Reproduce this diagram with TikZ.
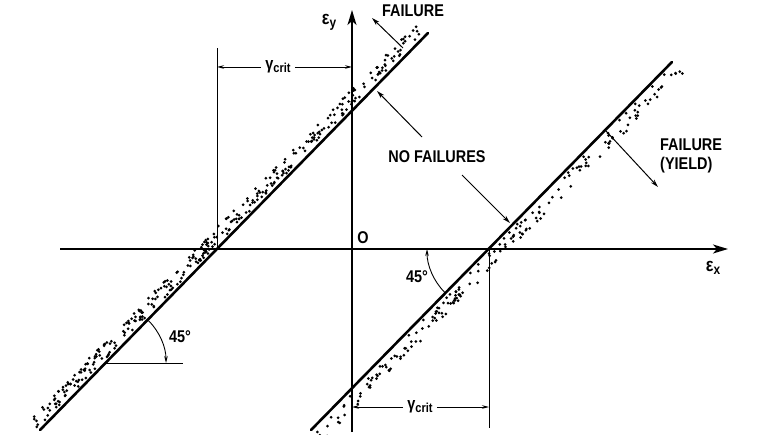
\documentclass[tikz,border=0pt]{standalone}
\usepackage{fontspec}
\newfontfamily\lbl[FakeStretch=0.85]{Liberation Sans}
\usetikzlibrary{arrows.meta}
\begin{document}
\begin{tikzpicture}[x=1pt,y=1pt,
  lab/.style={font=\lbl\bfseries\fontsize{17}{19}\selectfont, inner sep=0pt},
  axisline/.style={line width=1.6pt, -{Stealth[length=15pt,width=9pt,inset=4pt]}},
  critline/.style={line width=2.6pt, line cap=round},
  thinline/.style={line width=0.9pt},
  annarrow/.style={line width=1pt, -{Stealth[length=8pt,width=4.5pt]}},
  dimarrow/.style={line width=0.9pt, -{Stealth[length=7pt,width=3.5pt]}},
  dot/.style={fill=black},
]
\useasboundingbox (0,-435) rectangle (768,0);
% stippled bands
\pgfmathsetseed{7}
\foreach \i in {1,...,340}{
  \pgfmathsetmacro\t{rnd}
  \pgfmathsetmacro\d{3+12*rnd}
  \pgfmathsetmacro\px{40+388*\t-0.715*\d}
  \pgfmathsetmacro\py{-430+397*\t+0.699*\d}
  \fill[dot] (\px,\py) circle[radius=1.5pt];
}
\foreach \i in {1,...,190}{
  \pgfmathsetmacro\t{rnd}
  \pgfmathsetmacro\d{3+13*rnd}
  \pgfmathsetmacro\px{311+361*\t+0.714*\d}
  \pgfmathsetmacro\py{-430+368*\t-0.700*\d}
  \fill[dot] (\px,\py) circle[radius=1.5pt];
}
% axes
\coordinate (O) at (352,-249);
\coordinate (xs) at (60,-249);
\coordinate (xe) at (728,-249);
\coordinate (ys) at (352,-432);
\coordinate (ye) at (352,-10);
\draw[axisline] (xs) -- (xe);
\draw[axisline] (ys) -- (ye);
% failure lines
\coordinate (L1) at (40,-430);
\coordinate (L2) at (428,-33);
\coordinate (R1) at (311,-430);
\coordinate (R2) at (672,-62);
\draw[critline] (L1) -- (L2);
\draw[critline] (R1) -- (R2);
% verticals
\coordinate (VL1) at (217,-249);
\coordinate (VL2) at (217,-48);
\coordinate (VR1) at (489,-249);
\coordinate (VR2) at (489,-428);
\draw[thinline] (VL1) -- (VL2);
\draw[thinline] (VR1) -- (VR2);
% dimensions
\node[lab] (gt) at (278,-67) {γ\raisebox{-3pt}{\fontsize{13}{13}\selectfont crit}};
\coordinate (dt1) at (217,-67);
\coordinate (dt2) at (352,-67);
\draw[dimarrow] ([xshift=-4pt]gt.west) -- (dt1);
\draw[dimarrow] ([xshift=4pt]gt.east) -- (dt2);
\node[lab] (gb) at (420,-407) {γ\raisebox{-3pt}{\fontsize{13}{13}\selectfont crit}};
\coordinate (db1) at (352,-407);
\coordinate (db2) at (489,-407);
\draw[dimarrow] ([xshift=-4pt]gb.west) -- (db1);
\draw[dimarrow] ([xshift=4pt]gb.east) -- (db2);
% 45 degree marks
\coordinate (hc1) at (106,-363);
\coordinate (hc2) at (183,-363);
\draw[thinline] (hc1) -- (hc2);
\draw[thinline, {Stealth[length=7pt,width=3.5pt]}-] (166,-363) arc[start angle=0, end angle=45, radius=60pt];
\draw[thinline, {Stealth[length=7pt,width=3.5pt]}-] (427,-249) arc[start angle=180, end angle=225, radius=62pt];
\node[lab] (a1) at (180,-337) {45°};
\node[lab] (a2) at (417,-277) {45°};
% labels
\node[lab] (ey) at (329,-22) {{\fontsize{19}{19}\selectfont ε}\raisebox{-3pt}{\fontsize{14}{14}\selectfont y}};
\node[lab] (ex) at (713,-268) {{\fontsize{19}{19}\selectfont ε}\raisebox{-3pt}{\fontsize{14}{14}\selectfont x}};
\node[lab] (o) at (363,-238) {O};
\node[lab] (f1) at (413,-11) {FAILURE};
\coordinate (f1t) at (403,-48);
\coordinate (f1h) at (372,-18);
\draw[annarrow] (f1t) -- (f1h);
\node[lab] (nf) at (437,-157) {NO FAILURES};
\coordinate (n1t) at (422,-137);
\coordinate (n1h) at (377,-91);
\coordinate (n2t) at (462,-175);
\coordinate (n2h) at (510,-223);
\draw[annarrow] (n1t) -- (n1h);
\draw[annarrow] (n2t) -- (n2h);
\node[lab, align=left, anchor=north west] (fy) at (660,-139) {FAILURE\\(YIELD)};
\coordinate (fyt) at (606,-131);
\coordinate (fyh) at (658,-187);
\draw[annarrow] (fyt) -- (fyh);
\end{tikzpicture}
\end{document}
